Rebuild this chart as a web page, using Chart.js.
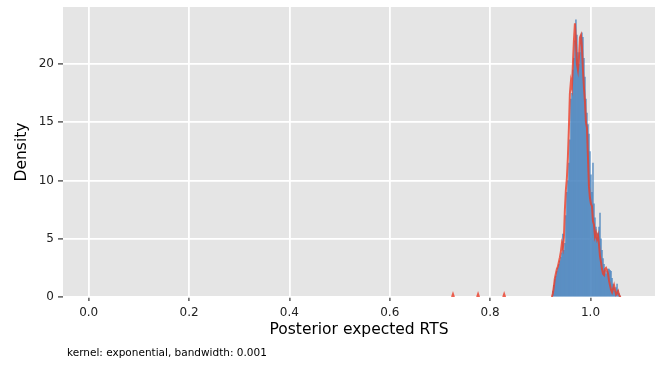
<!DOCTYPE html>
<html>
<head>
<meta charset="utf-8">
<script src="https://cdn.jsdelivr.net/npm/chart.js@4"></script>
<style>
  html, body { margin: 0; padding: 0; background: #fff; }
  #wrap { width: 659px; height: 365px; }
</style>
</head>
<body>
<div id="wrap"><canvas id="rtsChart"></canvas></div>
<script>
// histogram bin centres (posterior expected RTS)
const rtsBins = [
  0.925, 0.927, 0.929, 0.931, 0.933, 0.935, 0.937, 0.939, 0.941, 0.943,
  0.945, 0.947, 0.949, 0.951, 0.953, 0.955, 0.957, 0.959, 0.961, 0.963,
  0.965, 0.967, 0.969, 0.971, 0.973, 0.975, 0.977, 0.979, 0.981, 0.983,
  0.985, 0.987, 0.989, 0.991, 0.993, 0.995, 0.997, 0.999, 1.001, 1.003,
  1.005, 1.007, 1.009, 1.011, 1.013, 1.015, 1.017, 1.019, 1.021, 1.023,
  1.025, 1.027, 1.029, 1.031, 1.033, 1.035, 1.037, 1.039, 1.041, 1.043,
  1.045, 1.047, 1.049, 1.051, 1.053, 1.055, 1.057, 1.059
];
const histDensity = [
  0.5, 1.0, 1.5, 1.8, 2.2, 2.5, 2.8, 3.1, 3.4, 3.8,
  5.4, 4.0, 4.6, 7.0, 9.0, 10.0, 11.5, 13.5, 17.0, 17.5,
  19.5, 20.5, 22.0, 23.8, 22.5, 21.0, 20.0, 21.0, 22.5, 22.7,
  22.3, 20.5, 18.9, 17.0, 15.8, 14.8, 14.0, 12.5, 10.5, 9.0,
  11.5, 8.0, 6.8, 6.0, 5.1, 5.5, 6.0, 7.2, 5.0, 4.0,
  3.3, 2.8, 2.3, 2.0, 2.2, 2.4, 2.4, 2.3, 2.2, 1.6,
  1.1, 0.8, 0.5, 0.8, 1.1, 0.6, 0.3, 0.1
];

// kernel density curve (null = break in the line)
const kdeX = [
  0.724, 0.726, 0.728, 0.729,
  0.774, 0.776, 0.778, 0.779,
  0.826, 0.828, 0.830, 0.831,
  0.923, 0.925, 0.927, 0.929, 0.931, 0.933, 0.935, 0.937, 0.939, 0.941,
  0.943, 0.945, 0.947, 0.949, 0.951, 0.953, 0.955, 0.957, 0.959, 0.961,
  0.963, 0.965, 0.967, 0.969, 0.971, 0.973, 0.975, 0.977, 0.979, 0.981,
  0.983, 0.985, 0.987, 0.989, 0.991, 0.993, 0.995, 0.997, 0.999, 1.001,
  1.003, 1.005, 1.007, 1.009, 1.011, 1.013, 1.015, 1.017, 1.019, 1.021,
  1.023, 1.025, 1.027, 1.029, 1.031, 1.033, 1.035, 1.037, 1.039, 1.041,
  1.043, 1.045, 1.047, 1.049, 1.051, 1.053, 1.055, 1.057, 1.059, 1.061
];
const kdeDensity = [
  0, 0.25, 0, null,
  0, 0.25, 0, null,
  0, 0.25, 0, null,
  0, 0.3, 0.9, 1.6, 2.0, 2.4, 2.6, 3.0, 3.4, 3.9,
  4.6, 4.2, 5.0, 7.5, 9.2, 10.2, 12.0, 14.5, 17.5, 18.5,
  18.0, 20.0, 22.0, 23.5, 22.0, 20.0, 19.5, 20.5, 22.3, 22.5,
  21.5, 19.5, 18.0, 16.8, 15.0, 14.5, 12.0, 9.5, 8.5, 8.0,
  7.8, 6.5, 6.2, 5.2, 5.5, 5.0, 5.3, 4.5, 3.5, 3.0,
  2.4, 2.0, 1.9, 2.4, 2.5, 2.3, 2.0, 1.4, 1.0, 0.6,
  0.4, 0.7, 1.0, 0.6, 0.2, 0.3, 0.5, 0.2, 0.0, 0.0
];

const xTicks = [0.0, 0.2, 0.4, 0.6, 0.8, 1.0];
const yTicks = [0, 5, 10, 15, 20];
const caption = 'kernel: exponential, bandwidth: 0.001';

const FONT = "'DejaVu Sans', sans-serif";

// grey panel behind the grid, like ggplot
const panelBg = {
  id: 'panelBg',
  beforeDraw(chart) {
    const { ctx, chartArea: a } = chart;
    ctx.save();
    ctx.fillStyle = '#e5e5e5';
    ctx.fillRect(a.left, a.top, a.right - a.left, a.bottom - a.top);
    ctx.restore();
  }
};

// caption bottom left
const captionText = {
  id: 'captionText',
  afterDraw(chart) {
    const ctx = chart.ctx;
    ctx.save();
    ctx.font = '10.5px ' + FONT;
    ctx.fillStyle = '#000';
    ctx.textBaseline = 'middle';
    ctx.fillText(caption, 67, 353);
    ctx.restore();
  }
};

const ctx = document.getElementById('rtsChart').getContext('2d');

new Chart(ctx, {
  data: {
    datasets: [
      {
        type: 'line',
        data: kdeX.map((x, i) => ({ x: x, y: kdeDensity[i] })),
        borderColor: 'rgba(235, 60, 40, 0.8)',
        borderWidth: 2,
        pointRadius: 0,
        tension: 0,
        spanGaps: false,
        order: 0
      },
      {
        type: 'bar',
        data: rtsBins.map((x, i) => ({ x: x, y: histDensity[i] })),
        backgroundColor: 'rgba(70, 130, 190, 0.75)',
        borderWidth: 0,
        categoryPercentage: 1.0,
        barPercentage: 1.0,
        grouped: false,
        order: 1
      }
    ]
  },
  options: {
    responsive: true,
    maintainAspectRatio: false,
    animation: false,
    layout: {
      padding: { top: 7, right: 4, bottom: 23, left: 0 }
    },
    scales: {
      x: {
        type: 'linear',
        min: -0.0512,
        max: 1.1286,
        offset: false,
        afterFit: (scale) => {
          scale.height = 45;
          scale.paddingLeft = 0;
          scale.paddingRight = 0;
        },
        afterBuildTicks: (scale) => { scale.ticks = xTicks.map(v => ({ value: v })); },
        grid: {
          offset: false,
          color: '#ffffff',
          lineWidth: 1.8,
          tickColor: '#333',
          tickWidth: 1.2,
          tickLength: 4
        },
        border: { display: false },
        ticks: {
          color: '#222',
          font: { family: FONT, size: 12 },
          padding: 5,
          maxRotation: 0,
          callback: (v) => v.toFixed(1)
        },
        title: {
          display: true,
          text: 'Posterior expected RTS',
          color: '#000',
          font: { family: FONT, size: 15.5 },
          padding: { top: 3, bottom: 3 }
        }
      },
      y: {
        min: 0,
        max: 24.91,
        afterFit: (scale) => {
          scale.width = 63;
          scale.paddingTop = 0;
          scale.paddingBottom = 0;
        },
        afterBuildTicks: (scale) => { scale.ticks = yTicks.map(v => ({ value: v })); },
        grid: {
          color: '#ffffff',
          lineWidth: 1.8,
          tickColor: '#333',
          tickWidth: 1.2,
          tickLength: 5
        },
        border: { display: false },
        ticks: {
          color: '#222',
          font: { family: FONT, size: 12 },
          padding: 4
        },
        title: {
          display: true,
          text: 'Density',
          color: '#000',
          font: { family: FONT, size: 15.5 },
          padding: { top: 13, bottom: 0 }
        }
      }
    },
    plugins: {
      legend: { display: false },
      tooltip: { enabled: false }
    }
  },
  plugins: [panelBg, captionText]
});
</script>
</body>
</html>
